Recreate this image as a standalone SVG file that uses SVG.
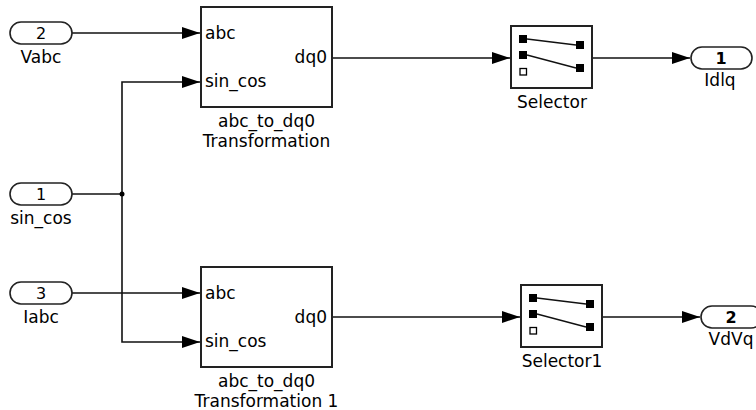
<svg xmlns="http://www.w3.org/2000/svg" width="756" height="410" viewBox="0 0 756 410">
<style>
text{font-family:"DejaVu Sans","Liberation Sans",sans-serif;font-size:17px;fill:#000}
.c{text-anchor:middle}
.e{text-anchor:end}
.num{font-size:16px;text-anchor:middle}
.b{font-weight:bold}
.port{fill:#fff;stroke:#222;stroke-width:1.6}
.blk{fill:#fff;stroke:#222;stroke-width:2}
.wire{fill:none;stroke:#111;stroke-width:1.6}
.sq{fill:#000}
.sl{stroke:#111;stroke-width:1.3}
</style>
<defs>
<marker id="ah" markerUnits="userSpaceOnUse" markerWidth="20" markerHeight="14" refX="18" refY="6" orient="auto">
<path d="M0,0 L18,6 L0,12 z" fill="#000"/>
</marker>
</defs>
<g id="connectors">
<path class="wire" d="M72,33 H200" marker-end="url(#ah)"/>
<path class="wire" d="M72,194 H122" />
<path class="wire" d="M122,194 V82 H200" marker-end="url(#ah)"/>
<path class="wire" d="M122,194 V342 H200" marker-end="url(#ah)"/>
<path class="wire" d="M72,293 H200" marker-end="url(#ah)"/>
<path class="wire" d="M332,58 H510" marker-end="url(#ah)"/>
<path class="wire" d="M592,58 H690" marker-end="url(#ah)"/>
<path class="wire" d="M332,317 H520" marker-end="url(#ah)"/>
<path class="wire" d="M602,317 H700" marker-end="url(#ah)"/>
<circle cx="122" cy="194" r="2.5" fill="#000"/>
</g>
<g id="in_Vabc">
<rect class="port" x="10" y="22" width="62" height="22" rx="11"/>
<text class="num" x="41" y="39">2</text>
<text class="c" x="41" y="63">Vabc</text>
</g>
<g id="in_sin_cos">
<rect class="port" x="10" y="183" width="62" height="22" rx="11"/>
<text class="num" x="41" y="200">1</text>
<text class="c" x="41" y="224">sin_cos</text>
</g>
<g id="in_Iabc">
<rect class="port" x="10" y="282" width="62" height="22" rx="11"/>
<text class="num" x="41" y="299">3</text>
<text class="c" x="41" y="323">Iabc</text>
</g>
<g id="abc_to_dq0">
<rect class="blk" x="201" y="7" width="131" height="100"/>
<text x="205" y="39">abc</text>
<text x="205" y="87">sin_cos</text>
<text class="e" x="327" y="63">dq0</text>
<text class="c" x="266.5" y="127">abc_to_dq0</text>
<text class="c" x="266.5" y="147">Transformation</text>
</g>
<g id="abc_to_dq0_1">
<rect class="blk" x="201" y="267" width="131" height="100"/>
<text x="205" y="299">abc</text>
<text x="205" y="347">sin_cos</text>
<text class="e" x="327" y="323">dq0</text>
<text class="c" x="266.5" y="387">abc_to_dq0</text>
<text class="c" x="266.5" y="407">Transformation 1</text>
</g>
<g id="Selector">
<rect class="blk" x="511" y="26" width="81" height="62"/>
<rect class="sq" x="519" y="35" width="8" height="8"/>
<rect class="sq" x="519" y="51" width="8" height="8"/>
<rect x="520" y="68.5" width="6.5" height="6.5" fill="#fff" stroke="#000" stroke-width="1.3"/>
<rect class="sq" x="576" y="41" width="8" height="8"/>
<rect class="sq" x="576" y="64" width="8" height="8"/>
<line class="sl" x1="527" y1="39" x2="576" y2="45"/>
<line class="sl" x1="527" y1="55" x2="576" y2="68"/>
<text class="c" x="552" y="108">Selector</text>
</g>
<g id="Selector1">
<rect class="blk" x="521" y="285" width="81" height="62"/>
<rect class="sq" x="529" y="294" width="8" height="8"/>
<rect class="sq" x="529" y="310" width="8" height="8"/>
<rect x="530" y="327.5" width="6.5" height="6.5" fill="#fff" stroke="#000" stroke-width="1.3"/>
<rect class="sq" x="586" y="300" width="8" height="8"/>
<rect class="sq" x="586" y="323" width="8" height="8"/>
<line class="sl" x1="537" y1="298" x2="586" y2="304"/>
<line class="sl" x1="537" y1="314" x2="586" y2="327"/>
<text class="c" x="562" y="367">Selector1</text>
</g>
<g id="out_Idlq">
<rect class="port" x="691" y="47" width="61" height="22" rx="11"/>
<text class="num b" x="721" y="64">1</text>
<text class="c" x="720" y="86">Idlq</text>
</g>
<g id="out_VdVq">
<rect class="port" x="701" y="306" width="61" height="22" rx="11"/>
<text class="num b" x="731" y="323">2</text>
<text class="c" x="731" y="345">VdVq</text>
</g>
</svg>
